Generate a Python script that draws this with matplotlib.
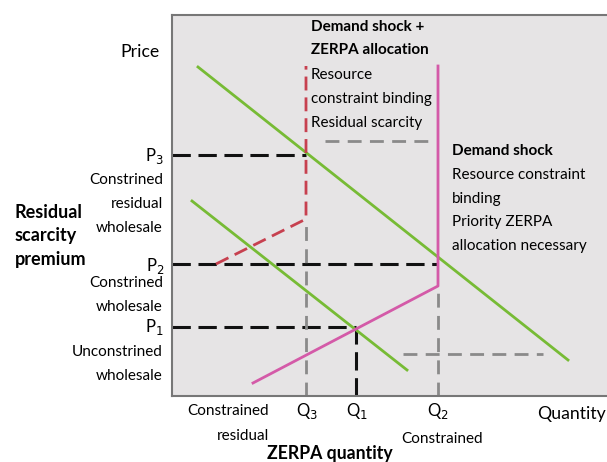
import matplotlib.pyplot as plt

plt.rcParams['font.family'] = ['Lato', 'DejaVu Sans']

# chart values (x = quantity, y = price, arbitrary units)
Q3, Q1, Q2 = 134, 184, 266
P1, P2, P3 = 69, 132, 241

demand_high_x = [26, 396]
demand_high_y = [329, 36]
demand_low_x = [20, 235]
demand_low_y = [195, 26]
supply_x = [81, Q2, Q2]
supply_y = [13, 110, 330]
zerpa_x = [44, Q3, Q3]
zerpa_y = [P2, 177, 330]
gray_h_upper_x = [153, 258]
gray_h_upper_y = [255, 255]
gray_h_lower_x = [231, 371]
gray_h_lower_y = [42, 42]

GREEN = '#77bb35'
PINK = '#d45aa8'
RED = '#c7404f'
GRAY = '#8a8a8a'
BLACK = '#111111'

fig = plt.figure(figsize=(6.07, 4.62), dpi=100)
ax = fig.add_axes([172/607, 66/462, 440/607, 381/462])
ax.set_facecolor('#e6e4e5')
ax.set_xlim(0, 440)
ax.set_ylim(0, 381)
ax.set_xticks([])
ax.set_yticks([])
for s in ['top', 'bottom', 'left']:
    ax.spines[s].set_color('#777777')
    ax.spines[s].set_linewidth(1.5)
ax.spines['right'].set_visible(False)

# price guide lines
ax.plot([0, Q3], [P3, P3], color=BLACK, lw=2.2, dashes=(6, 2.5))
ax.plot([0, Q2], [P2, P2], color=BLACK, lw=2.2, dashes=(6, 2.5))
ax.plot([0, Q1], [P1, P1], color=BLACK, lw=2.2, dashes=(6, 2.5))
ax.plot([Q1, Q1], [0, P1], color=BLACK, lw=2.2, dashes=(6, 2.5))

# gray guides
ax.plot([Q3, Q3], [0, 177], color=GRAY, lw=2, dashes=(5, 3))
ax.plot([Q2, Q2], [0, 110], color=GRAY, lw=2, dashes=(5, 3))
ax.plot(gray_h_upper_x, gray_h_upper_y, color=GRAY, lw=2, dashes=(5, 3))
ax.plot(gray_h_lower_x, gray_h_lower_y, color=GRAY, lw=2, dashes=(5, 3))

# curves
ax.plot(demand_high_x, demand_high_y, color=GREEN, lw=2)
ax.plot(demand_low_x, demand_low_y, color=GREEN, lw=2)
ax.plot(supply_x, supply_y, color=PINK, lw=2)
ax.plot(zerpa_x, zerpa_y, color=RED, lw=2, dashes=(5, 2.5))

fs = 11
big = 12.7
# annotations inside the plot
ax.text(139, 369, 'Demand shock +', fontsize=fs, fontweight='bold', va='center')
ax.text(139, 346, 'ZERPA allocation', fontsize=fs, fontweight='bold', va='center')
for txt, y in [('Resource', 321), ('constraint binding', 297), ('Residual scarcity', 273)]:
    ax.text(139, y, txt, fontsize=fs, va='center')
ax.text(280, 245, 'Demand shock', fontsize=fs, fontweight='bold', va='center')
for txt, y in [('Resource constraint', 221), ('binding', 197),
               ('Priority ZERPA', 174), ('allocation necessary', 150)]:
    ax.text(280, y, txt, fontsize=fs, va='center')

# left labels (figure pixel coords)
def ftext(x, y, s, **kw):
    fig.text(x/607, 1 - y/462, s, fontsize=kw.pop('fontsize', fs), **kw)

ftext(160, 52, 'Price', ha='right', va='center', fontsize=big)
ftext(164, 156, r'P$_3$', ha='right', va='center', fontsize=12)
ftext(164, 266, r'P$_2$', ha='right', va='center', fontsize=12)
ftext(164, 327, r'P$_1$', ha='right', va='center', fontsize=12)
for txt, y in [('Constrined', 180), ('residual', 204), ('wholesale', 228),
               ('Constrined', 283), ('wholesale', 307),
               ('Unconstrined', 352), ('wholesale', 376)]:
    ftext(163, y, txt, ha='right', va='center')
for txt, y in [('Residual', 212), ('scarcity', 236), ('premium', 260)]:
    ftext(15, y, txt, ha='left', va='center', fontweight='bold', fontsize=13)

# bottom labels
ftext(228, 411, 'Constrained', ha='center', va='center')
ftext(243, 436, 'residual', ha='center', va='center')
ftext(307, 411, r'Q$_3$', ha='center', va='center', fontsize=12)
ftext(357, 411, r'Q$_1$', ha='center', va='center', fontsize=12)
ftext(438, 411, r'Q$_2$', ha='center', va='center', fontsize=12)
ftext(442, 439, 'Constrained', ha='center', va='center')
ftext(572, 414, 'Quantity', ha='center', va='center', fontsize=big)
ftext(330, 453, 'ZERPA quantity', ha='center', va='center', fontweight='bold', fontsize=big)

fig.savefig('out.png', dpi=100)
